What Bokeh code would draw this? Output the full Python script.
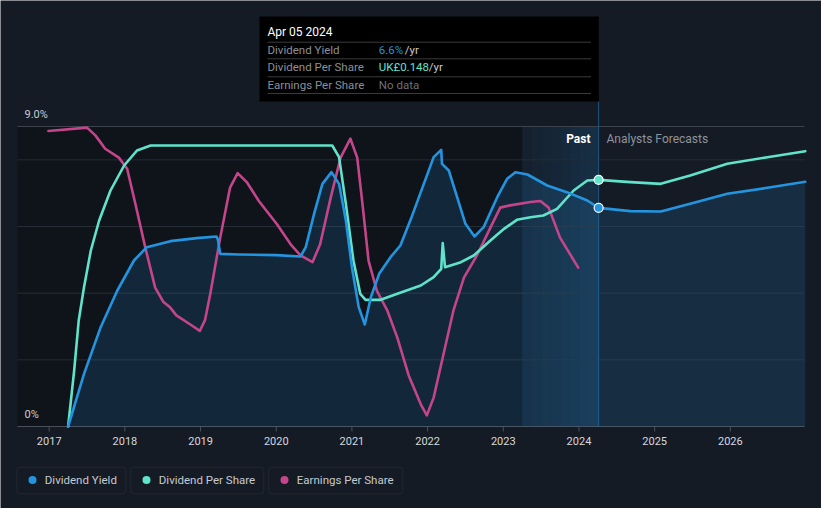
from bokeh.plotting import figure
from bokeh.models import Range1d, BoxAnnotation, Label
from bokeh.core.properties import value
from bokeh.embed import file_html
from bokeh.resources import INLINE

# ---------------- data ----------------
yield_years = [2017.25, 2017.46, 2017.68, 2017.90, 2018.12, 2018.29, 2018.60, 2018.95, 2019.21,
               2019.23, 2019.26, 2019.5, 2020.0, 2020.32, 2020.39, 2020.50, 2020.61, 2020.73,
               2020.83, 2020.92, 2021.00, 2021.09, 2021.17, 2021.25, 2021.36, 2021.51, 2021.64,
               2021.78, 2021.95, 2022.08, 2022.18, 2022.19, 2022.28, 2022.39, 2022.50, 2022.62,
               2022.74, 2022.92, 2023.05, 2023.16, 2023.32, 2023.58, 2023.84, 2024.11, 2024.26,
               2024.68, 2025.08, 2025.47, 2025.96, 2026.49, 2026.99]
yield_values = [0.0, 1.58, 2.98, 4.08, 4.98, 5.38, 5.56, 5.65, 5.70,
                5.60, 5.18, 5.16, 5.14, 5.10, 5.38, 6.38, 7.28, 7.63,
                7.28, 6.18, 4.78, 3.58, 3.06, 3.88, 4.58, 5.08, 5.43,
                6.23, 7.28, 8.08, 8.30, 7.88, 7.68, 6.88, 6.08, 5.70,
                5.98, 6.88, 7.43, 7.63, 7.56, 7.23, 7.03, 6.78, 6.56,
                6.46, 6.45, 6.68, 6.98, 7.16, 7.34]

dps_years = [2017.25, 2017.33, 2017.39, 2017.46, 2017.55, 2017.66, 2017.81, 2017.99, 2018.16,
             2018.34, 2020.74, 2020.83, 2020.92, 2021.02, 2021.11, 2021.18, 2021.38, 2021.60,
             2021.91, 2022.08, 2022.18, 2022.20, 2022.23, 2022.44, 2022.61, 2022.83, 2023.01,
             2023.18, 2023.36, 2023.53, 2023.71, 2023.93, 2024.11, 2024.26, 2024.68, 2025.08,
             2025.47, 2025.96, 2026.49, 2026.99]
dps_values = [0.0, 0.0336, 0.0636, 0.0836, 0.1056, 0.1236, 0.1416, 0.1566, 0.1656,
              0.1686, 0.1686, 0.1616, 0.1336, 0.0996, 0.0796, 0.076, 0.076, 0.0796,
              0.0846, 0.0896, 0.0946, 0.110, 0.0956, 0.0986, 0.1026, 0.1116, 0.1186,
              0.124, 0.1256, 0.1266, 0.1306, 0.1416, 0.1476, 0.148, 0.1466, 0.1456,
              0.1506, 0.1576, 0.1616, 0.1652]

eps_years = [2016.99, 2017.50, 2017.61, 2017.74, 2017.92, 2018.03, 2018.14, 2018.27, 2018.40,
             2018.51, 2018.60, 2018.68, 2018.86, 2018.99, 2019.06, 2019.13, 2019.26, 2019.39,
             2019.49, 2019.61, 2019.77, 2020.01, 2020.19, 2020.32, 2020.48, 2020.58, 2020.72,
             2020.85, 2020.98, 2021.07, 2021.14, 2021.22, 2021.33, 2021.47, 2021.60, 2021.75,
             2021.91, 2021.99, 2022.08, 2022.21, 2022.34, 2022.48, 2022.66, 2022.83, 2022.96,
             2023.09, 2023.36, 2023.49, 2023.60, 2023.75, 2023.99]
eps_values = [26.6, 26.9, 26.2, 25.0, 24.2, 23.2, 20.0, 16.1, 12.5,
              11.2, 10.7, 10.0, 9.2, 8.6, 9.6, 12.0, 17.0, 21.5,
              22.8, 22.0, 20.3, 18.2, 16.4, 15.4, 14.8, 16.4, 20.6,
              24.2, 25.9, 24.2, 20.0, 14.9, 12.2, 10.4, 8.0, 4.6,
              2.0, 1.0, 2.6, 6.5, 10.4, 13.4, 15.5, 17.9, 19.7,
              19.9, 20.2, 20.3, 19.7, 17.0, 14.3]

tick_years = [2017, 2018, 2019, 2020, 2021, 2022, 2023, 2024, 2025, 2026]
tick_labels = [str(t) for t in tick_years]
grid_levels = [2, 4, 6, 8]
top_level = 9
axis_labels = ["9.0%", "0%"]
plot_left = 2016.58
plot_right = 2026.98
past_start = 2023.25
today = 2024.26

series_names = ["Dividend Yield", "Dividend Per Share", "Earnings Per Share"]
tooltip_date = "Apr 05 2024"
tooltip_yield = "6.6%"
tooltip_dps = "UK£0.148"
tooltip_eps = "No data"

# ---------------- styles ----------------
BG = "#151b24"
BLUE = "#2394df"
TEAL = "#5fe3cb"
MAGENTA = "#c4458a"
FONT = "Roboto"

PPY = 75.68                      # pixels per year


# pixel <-> data helpers for the 821x508 canvas (frame fills the canvas)
def xpx(px):
    return 2017 + (px - 48.7) / PPY


def ypx(py):
    return (426 - py) * 0.03


Y0, Y1 = ypx(508), ypx(0)

p = figure(width=821, height=508, x_range=Range1d(xpx(0), xpx(821)), y_range=Range1d(Y0, Y1),
           min_border=0, toolbar_location=None, output_backend="svg",
           x_axis_location=None, y_axis_location=None,
           background_fill_color=BG, border_fill_color=BG, outline_line_color=None)
p.grid.visible = False
p.extra_y_ranges = {"dps": Range1d(Y0 * 0.02, Y1 * 0.02), "eps": Range1d(Y0 * 3, Y1 * 3)}

# backgrounds
p.add_layout(BoxAnnotation(left=plot_left, right=past_start, bottom=0, top=top_level,
                           fill_color="#000000", fill_alpha=0.25, line_color=None, level="underlay"))
nb = 8
w = (today - past_start) / nb
for i in range(nb):
    p.add_layout(BoxAnnotation(left=past_start + i * w, right=past_start + (i + 1) * w, bottom=0,
                               top=top_level, fill_color="#1d5c8f", fill_alpha=0.10 + 0.03 * i,
                               line_color=None, level="underlay"))

# grid lines
p.segment(x0=[plot_left] * len(grid_levels), y0=grid_levels, x1=[plot_right] * len(grid_levels),
          y1=grid_levels, line_color="#262c36", line_width=1)
p.segment(x0=[plot_left], y0=[top_level], x1=[plot_right], y1=[top_level],
          line_color="#3d434d", line_width=1)

# x axis (line, ticks, labels)
p.segment(x0=[plot_left], y0=[0], x1=[plot_right], y1=[0], line_color="#4a505a", line_width=1)
p.segment(x0=tick_years, y0=[0] * len(tick_years), x1=tick_years,
          y1=[ypx(431)] * len(tick_years), line_color="#4a505a", line_width=1)
p.text(x=tick_years, y=[ypx(440.5)] * len(tick_years), text=tick_labels, text_color="#d5d8dd",
       text_font=value(FONT), text_font_size="11px", text_align="center", text_baseline="middle")

# y labels
p.text(x=[xpx(24)] * 2, y=[ypx(114), ypx(414)], text=axis_labels, text_color="#c9ccd1",
       text_font=value(FONT), text_font_size="11px", text_baseline="middle")

# today line
p.segment(x0=[today], y0=[0], x1=[today], y1=[ypx(101)], line_color="#1f5580", line_width=1)

# area + lines
p.varea(x=yield_years, y1=0, y2=yield_values, fill_color=BLUE, fill_alpha=0.16)
p.line(eps_years, eps_values, y_range_name="eps", line_color=MAGENTA, line_width=2.6,
       line_join="round", line_cap="round")
p.line(dps_years, dps_values, y_range_name="dps", line_color=TEAL, line_width=2.6,
       line_join="round", line_cap="round")
p.line(yield_years, yield_values, line_color=BLUE, line_width=2.6, line_join="round",
       line_cap="round")

i_y = yield_years.index(today)
i_d = dps_years.index(today)
p.scatter([today], [yield_values[i_y]], size=9, fill_color=BLUE, line_color="white", line_width=1.2)
p.scatter([today], [dps_values[i_d]], y_range_name="dps", size=9, fill_color=TEAL,
          line_color="white", line_width=1.2)

p.add_layout(Label(x=xpx(590), y=ypx(138), text="Past", text_color="#ffffff", text_font=FONT,
                   text_font_size="12px", text_font_style="bold", text_align="right",
                   text_baseline="middle"))
p.add_layout(Label(x=xpx(606), y=ypx(138), text="Analysts Forecasts", text_color="#8f949c",
                   text_font=FONT, text_font_size="12px", text_baseline="middle"))

# tooltip
p.add_layout(BoxAnnotation(left=xpx(259), right=xpx(598.3), top=ypx(16), bottom=ypx(101),
                           fill_color="#000000", fill_alpha=1.0, line_color=None))
for py in [41.7, 58.3, 76.3, 93]:
    p.segment(x0=[xpx(267)], y0=[ypx(py)], x1=[xpx(590.5)], y1=[ypx(py)], line_color="#3a3a3a",
              line_width=1, level="overlay")
p.add_layout(Label(x=xpx(267), y=ypx(31.5), text=tooltip_date, text_color="#ffffff", text_font=FONT,
                   text_font_size="12px", text_baseline="middle"))
rows = [(series_names[0], 49.3), (series_names[1], 66.2), (series_names[2], 84)]
for name, py in rows:
    p.add_layout(Label(x=xpx(267), y=ypx(py), text=name, text_color="#8a8f97", text_font=FONT,
                       text_font_size="11.5px", text_baseline="middle"))
vals = [(tooltip_yield, BLUE, 49.3, 404.3), (tooltip_dps, TEAL, 66.2, 428.3),
        (tooltip_eps, "#6c7078", 84, None)]
for txt, col, py, suffix_x in vals:
    p.add_layout(Label(x=xpx(378.3), y=ypx(py), text=txt, text_color=col, text_font=FONT,
                       text_font_size="11.5px", text_baseline="middle"))
    if suffix_x is not None:
        p.add_layout(Label(x=xpx(suffix_x), y=ypx(py), text="/yr", text_color="#c9c9c9",
                           text_font=FONT, text_font_size="11.5px", text_baseline="middle"))

# ---------------- legend ----------------
boxes = [(16.3, 125.3), (130.3, 263.3), (268.3, 402.3)]
colors = [BLUE, TEAL, MAGENTA]
for (l, r), name, col in zip(boxes, series_names, colors):
    p.add_layout(BoxAnnotation(left=xpx(l), right=xpx(r), top=ypx(466.7), bottom=ypx(493.3),
                               fill_color=None, line_color="#3d434d", line_width=1,
                               border_radius=3))
    p.scatter([xpx(l + 15.7)], [ypx(479.5)], size=8, fill_color=col, line_color=None)
    p.add_layout(Label(x=xpx(l + 28), y=ypx(479.5), text=name, text_color="#c6cad0",
                       text_font=FONT, text_font_size="11.5px", text_baseline="middle"))

open("out.html", "w").write(file_html(p, INLINE))
